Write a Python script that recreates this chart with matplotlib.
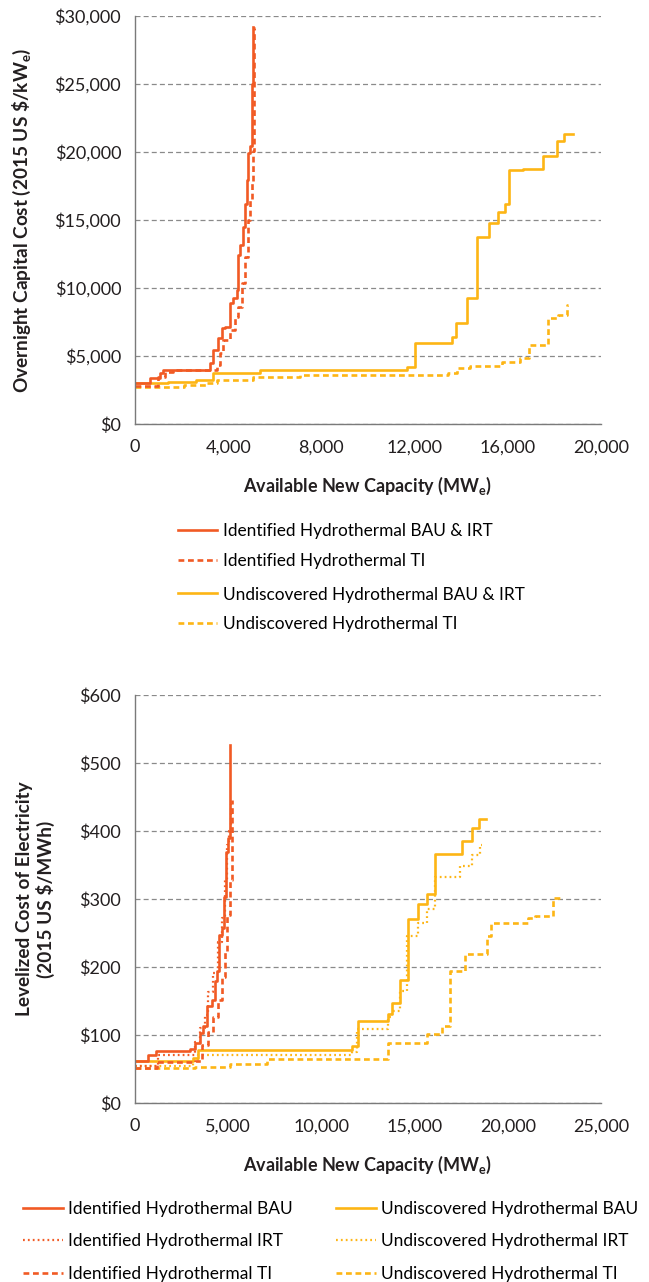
import matplotlib
matplotlib.use("Agg")
import matplotlib.pyplot as plt
from matplotlib.ticker import FuncFormatter, MultipleLocator

plt.rcParams['font.family'] = ['Lato', 'DejaVu Sans']
plt.rcParams['mathtext.fontset'] = 'custom'
plt.rcParams['mathtext.rm'] = 'Lato'
plt.rcParams['mathtext.bf'] = 'Lato:bold'

RED = '#F15A24'
YEL = '#FDB515'
GRID = '#8a8a8a'
SPINE = '#7a7a7a'
TXT = '#231f20'

# --------------------------------------------------------------------------- #
# top panel: overnight capital cost ($/kWe) vs available capacity (MWe)
# --------------------------------------------------------------------------- #
occ_ident_bau_x = [0, 640, 1070, 1220, 3220, 3360, 3580, 3720, 3860, 4080, 4220,
                   4370, 4440, 4510, 4650, 4720, 4790, 4870, 4940, 5010, 5050, 5080]
occ_ident_bau_y = [2990, 3400, 3720, 3970, 4460, 5440, 6300, 7030, 7150, 8870, 9240,
                   9850, 12420, 13150, 14500, 16200, 17900, 19900, 20400, 25000, 29200, 29200]

occ_ident_ti_x = [0, 1000, 1290, 1650, 3500, 3650, 3790, 4080, 4290, 4440, 4580,
                  4720, 4870, 4940, 5010, 5080, 5120, 5150]
occ_ident_ti_y = [2800, 3460, 3850, 3970, 4340, 5190, 6170, 6900, 7900, 8600, 10340,
                  12300, 15000, 16460, 17700, 20100, 29100, 29100]

occ_undis_bau_x = [0, 1400, 2600, 3360, 5370, 11660, 12020, 13590, 13780, 14270,
                   14700, 15200, 15570, 15880, 16070, 16670, 17500, 18100, 18430, 18820]
occ_undis_bau_y = [2990, 3050, 3230, 3770, 3970, 4210, 5980, 6420, 7400, 9290,
                   13720, 14800, 15600, 16170, 18670, 18720, 19700, 20830, 21300, 21300]

occ_undis_ti_x = [0, 2100, 3100, 3500, 5080, 7080, 13450, 13810, 14380, 15740,
                  16530, 16890, 17740, 18170, 18530, 18600]
occ_undis_ti_y = [2740, 2850, 3000, 3230, 3430, 3600, 3720, 4090, 4290, 4580,
                  4830, 5800, 7770, 8000, 8750, 8750]

# --------------------------------------------------------------------------- #
# bottom panel: LCOE ($/MWh) vs available capacity (MWe)
# --------------------------------------------------------------------------- #
lcoe_ident_bau_x = [0, 715, 1130, 2950, 3220, 3490, 3670, 3840, 4110, 4290, 4420,
                    4520, 4650, 4770, 4880, 5010, 5100]
lcoe_ident_bau_y = [62, 70, 76, 80, 89, 103, 113, 142, 151, 179, 194,
                    247, 257, 303, 369, 389, 526]

lcoe_ident_irt_x = [0, 1250, 3220, 3490, 3760, 3930, 4200, 4470, 4650, 4830, 4950, 5060, 5150]
lcoe_ident_irt_y = [55, 70, 90, 110, 130, 163, 191, 237, 272, 328, 379, 400, 440]

lcoe_ident_ti_x = [0, 1160, 3220, 3580, 3930, 4200, 4470, 4650, 4830, 4950, 5100, 5190, 5220]
lcoe_ident_ti_y = [52, 60, 62, 85, 105, 126, 151, 186, 222, 277, 328, 389, 445]

lcoe_undis_bau_x = [0, 3130, 3400, 11620, 11980, 13590, 13770, 14220, 14660, 15200,
                    15650, 16090, 17520, 18100, 18470, 18830]
lcoe_undis_bau_y = [62, 66, 78, 84, 120, 131, 147, 181, 270, 292,
                    307, 366, 385, 404, 417, 417]

lcoe_undis_irt_x = [0, 3130, 3400, 11620, 11930, 13590, 13770, 14220, 14610, 15200,
                    15650, 16090, 17430, 18060, 18510, 18600]
lcoe_undis_irt_y = [55, 62, 70, 75, 109, 126, 136, 164, 245, 265,
                    285, 333, 348, 364, 379, 379]

lcoe_undis_ti_x = [0, 3220, 5100, 7060, 13590, 15650, 16450, 16900, 17700, 18860,
                   19080, 21100, 21460, 22400, 22980]
lcoe_undis_ti_y = [52, 53, 57, 65, 88, 101, 113, 194, 219, 245,
                   265, 272, 275, 302, 302]

SOLID = dict(lw=1.9, ls='-')
DASH = dict(lw=1.9, ls=(0, (2.2, 1.4)))
DOT = dict(lw=1.6, ls=(0, (0.8, 1.4)))


def style_axes(ax):
    for s in ('top', 'right'):
        ax.spines[s].set_visible(False)
    for s in ('left', 'bottom'):
        ax.spines[s].set_color(SPINE)
        ax.spines[s].set_linewidth(1.0)
    ax.yaxis.grid(True, color=GRID, ls=(0, (4, 2.5)), lw=0.9)
    ax.set_axisbelow(True)
    ax.tick_params(length=0, labelsize=13, colors=TXT)
    ax.tick_params(axis='x', pad=11)
    ax.tick_params(axis='y', pad=10)


def money(v, p):
    return f"${v:,.0f}"


def comma(v, p):
    return f"{v:,.0f}"


fig = plt.figure(figsize=(6.49, 12.82), dpi=100)

# ---- top ----
ax1 = fig.add_axes([0.208, 0.6693, 0.718, 0.3183])
ax1.plot(occ_undis_ti_x, occ_undis_ti_y, color=YEL, drawstyle='steps-post', **DASH)
ax1.plot(occ_undis_bau_x, occ_undis_bau_y, color=YEL, drawstyle='steps-post', **SOLID)
ax1.plot(occ_ident_ti_x, occ_ident_ti_y, color=RED, drawstyle='steps-post', **DASH)
ax1.plot(occ_ident_bau_x, occ_ident_bau_y, color=RED, drawstyle='steps-post', **SOLID)
ax1.set_xlim(0, 20000)
ax1.set_ylim(0, 30000)
ax1.xaxis.set_major_locator(MultipleLocator(4000))
ax1.yaxis.set_major_locator(MultipleLocator(5000))
ax1.xaxis.set_major_formatter(FuncFormatter(comma))
ax1.yaxis.set_major_formatter(FuncFormatter(money))
style_axes(ax1)
ax1.set_xlabel(r'Available New Capacity (MW$_\mathbf{e}$)', fontsize=13,
               fontweight='bold', labelpad=14, color=TXT)
ax1.set_ylabel(r'Overnight Capital Cost (2015 US \$/kW$_\mathbf{e}$)', fontsize=13.7,
               fontweight='bold', color=TXT)
ax1.yaxis.set_label_coords(-0.219, 0.5)

leg_kw = dict(loc='upper left', bbox_transform=fig.transFigure, frameon=False,
              fontsize=12.4, handlelength=2.27, handletextpad=0.35,
              labelspacing=0.8, borderpad=0, borderaxespad=0)
la = fig.legend([plt.Line2D([], [], color=RED, **SOLID), plt.Line2D([], [], color=RED, **DASH)],
                ['Identified Hydrothermal BAU & IRT', 'Identified Hydrothermal TI'],
                bbox_to_anchor=(0.2743, 0.5917), **leg_kw)
lb = fig.legend([plt.Line2D([], [], color=YEL, **SOLID), plt.Line2D([], [], color=YEL, **DASH)],
                ['Undiscovered Hydrothermal BAU & IRT', 'Undiscovered Hydrothermal TI'],
                bbox_to_anchor=(0.2743, 0.5425), **leg_kw)

# ---- bottom ----
ax2 = fig.add_axes([0.208, 0.1396, 0.718, 0.3183])
ax2.plot(lcoe_undis_ti_x, lcoe_undis_ti_y, color=YEL, drawstyle='steps-post', **DASH)
ax2.plot(lcoe_undis_irt_x, lcoe_undis_irt_y, color=YEL, drawstyle='steps-post', **DOT)
ax2.plot(lcoe_undis_bau_x, lcoe_undis_bau_y, color=YEL, drawstyle='steps-post', **SOLID)
ax2.plot(lcoe_ident_ti_x, lcoe_ident_ti_y, color=RED, drawstyle='steps-post', **DASH)
ax2.plot(lcoe_ident_irt_x, lcoe_ident_irt_y, color=RED, drawstyle='steps-post', **DOT)
ax2.plot(lcoe_ident_bau_x, lcoe_ident_bau_y, color=RED, drawstyle='steps-post', **SOLID)
ax2.set_xlim(0, 25000)
ax2.set_ylim(0, 600)
ax2.xaxis.set_major_locator(MultipleLocator(5000))
ax2.yaxis.set_major_locator(MultipleLocator(100))
ax2.xaxis.set_major_formatter(FuncFormatter(comma))
ax2.yaxis.set_major_formatter(FuncFormatter(money))
style_axes(ax2)
ax2.set_xlabel(r'Available New Capacity (MW$_\mathbf{e}$)', fontsize=13,
               fontweight='bold', labelpad=14, color=TXT)
ax2.set_ylabel('Levelized Cost of Electricity\n(2015 US $/MWh)', fontsize=13.7,
               fontweight='bold', linespacing=1.15, color=TXT)
ax2.yaxis.set_label_coords(-0.172, 0.5)

h2 = [plt.Line2D([], [], color=RED, **SOLID), plt.Line2D([], [], color=RED, **DOT),
      plt.Line2D([], [], color=RED, **DASH), plt.Line2D([], [], color=YEL, **SOLID),
      plt.Line2D([], [], color=YEL, **DOT), plt.Line2D([], [], color=YEL, **DASH)]
fig.legend(h2, ['Identified Hydrothermal BAU', 'Identified Hydrothermal IRT',
                'Identified Hydrothermal TI', 'Undiscovered Hydrothermal BAU',
                'Undiscovered Hydrothermal IRT', 'Undiscovered Hydrothermal TI'],
           loc='upper left', bbox_to_anchor=(0.0354, 0.0632), bbox_transform=fig.transFigure,
           frameon=False, fontsize=12.5, ncol=2, handlelength=2.3, handletextpad=0.29,
           labelspacing=0.95, columnspacing=2.5, borderpad=0, borderaxespad=0)

fig.savefig('out.png', dpi=100)
